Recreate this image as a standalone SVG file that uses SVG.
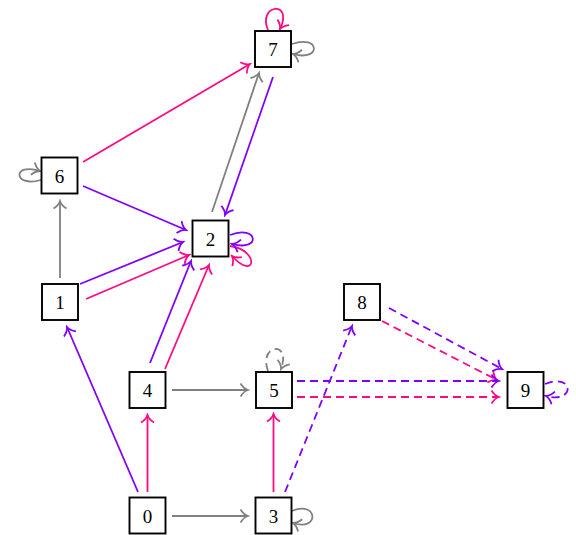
<svg xmlns="http://www.w3.org/2000/svg" width="576" height="535" viewBox="0 0 576 535">
<style>
.box rect{fill:#fff;stroke:#000;stroke-width:1.9}
.box text{font-family:"Liberation Serif","DejaVu Serif",serif;font-size:19px;text-anchor:middle;fill:#000}
.e{fill:none;stroke-width:1.8}
.g{stroke:#808080;marker-end:url(#ag)}
.p{stroke:#ff0a84;marker-end:url(#ap)}
.v{stroke:#8000ff;marker-end:url(#av)}
.d{stroke-dasharray:8 5}
</style>
<defs>
<marker id="ag" viewBox="-9 -8 11 16" markerWidth="11" markerHeight="16" refX="0" refY="0" orient="auto" markerUnits="userSpaceOnUse"><path d="M-7.5,-6.5 C-5,-2.5 -2,-0.6 0,0 C-2,0.6 -5,2.5 -7.5,6.5" fill="none" stroke="#808080" stroke-width="1.8"/></marker>
<marker id="ap" viewBox="-9 -8 11 16" markerWidth="11" markerHeight="16" refX="0" refY="0" orient="auto" markerUnits="userSpaceOnUse"><path d="M-7.5,-6.5 C-5,-2.5 -2,-0.6 0,0 C-2,0.6 -5,2.5 -7.5,6.5" fill="none" stroke="#ff0a84" stroke-width="1.8"/></marker>
<marker id="av" viewBox="-9 -8 11 16" markerWidth="11" markerHeight="16" refX="0" refY="0" orient="auto" markerUnits="userSpaceOnUse"><path d="M-7.5,-6.5 C-5,-2.5 -2,-0.6 0,0 C-2,0.6 -5,2.5 -7.5,6.5" fill="none" stroke="#8000ff" stroke-width="1.8"/></marker>
</defs>
<g id="edges">
<path class="e g" d="M172,516 L248,516"/>
<path class="e g" d="M172,390 L248,390"/>
<path class="e g" d="M60,278 L60,201"/>
<path class="e g" d="M212,212 L259,73"/>
<path class="e g" d="M292,44 C320,34 322,62 293,54"/>
<path class="e g" d="M41,180 C13,188 12,162 40,171"/>
<path class="e g" d="M292,511 C318,500 320,532 293,523"/>
<path class="e g d" d="M268,371 C258,344 292,340 281,369"/>
<path class="e p" d="M147.5,492 L147.5,415"/>
<path class="e p" d="M273.5,492 L273.5,414"/>
<path class="e p" d="M165,369 L209,265"/>
<path class="e p" d="M86,299 L189,255"/>
<path class="e p" d="M83,162 L250,64"/>
<path class="e p d" d="M297,397 L499,397"/>
<path class="e p d" d="M382,321 L497,380"/>
<path class="e p" d="M268,30 C257,4 294,0 280,29"/>
<path class="e p" d="M230,246 C260,250 256,282 232,256"/>
<path class="e v" d="M138,492 L67,327"/>
<path class="e v" d="M150,363 L191,261"/>
<path class="e v" d="M80,284 L183,242"/>
<path class="e v" d="M83,186 L186,230"/>
<path class="e v" d="M273,77 L225,215"/>
<path class="e v d" d="M285,492 L352,326"/>
<path class="e v d" d="M297,381 L499,381"/>
<path class="e v d" d="M389,308 L502,369"/>
<path class="e v" d="M230,235 C258,224 262,252 232,244"/>
<path class="e v d" d="M545,384 C574,372 576,404 546,396"/>
</g>
<g id="n0" class="box"><rect x="129.5" y="497.5" width="36" height="36"/><text x="147.5" y="522.5">0</text></g>
<g id="n1" class="box"><rect x="42" y="284" width="36" height="36"/><text x="60" y="309">1</text></g>
<g id="n2" class="box"><rect x="192.5" y="220.5" width="36" height="36"/><text x="210.5" y="245.5">2</text></g>
<g id="n3" class="box"><rect x="255.5" y="497.5" width="36" height="36"/><text x="273.5" y="522.5">3</text></g>
<g id="n4" class="box"><rect x="129.5" y="372" width="36" height="36"/><text x="147.5" y="397">4</text></g>
<g id="n5" class="box"><rect x="256" y="372" width="36" height="36"/><text x="274" y="397">5</text></g>
<g id="n6" class="box"><rect x="41.5" y="157.5" width="36" height="36"/><text x="59.5" y="182.5">6</text></g>
<g id="n7" class="box"><rect x="255" y="31" width="36" height="36"/><text x="273" y="56">7</text></g>
<g id="n8" class="box"><rect x="344" y="284" width="36" height="36"/><text x="362" y="309">8</text></g>
<g id="n9" class="box"><rect x="507.5" y="372" width="36" height="36"/><text x="525.5" y="397">9</text></g>
</svg>
